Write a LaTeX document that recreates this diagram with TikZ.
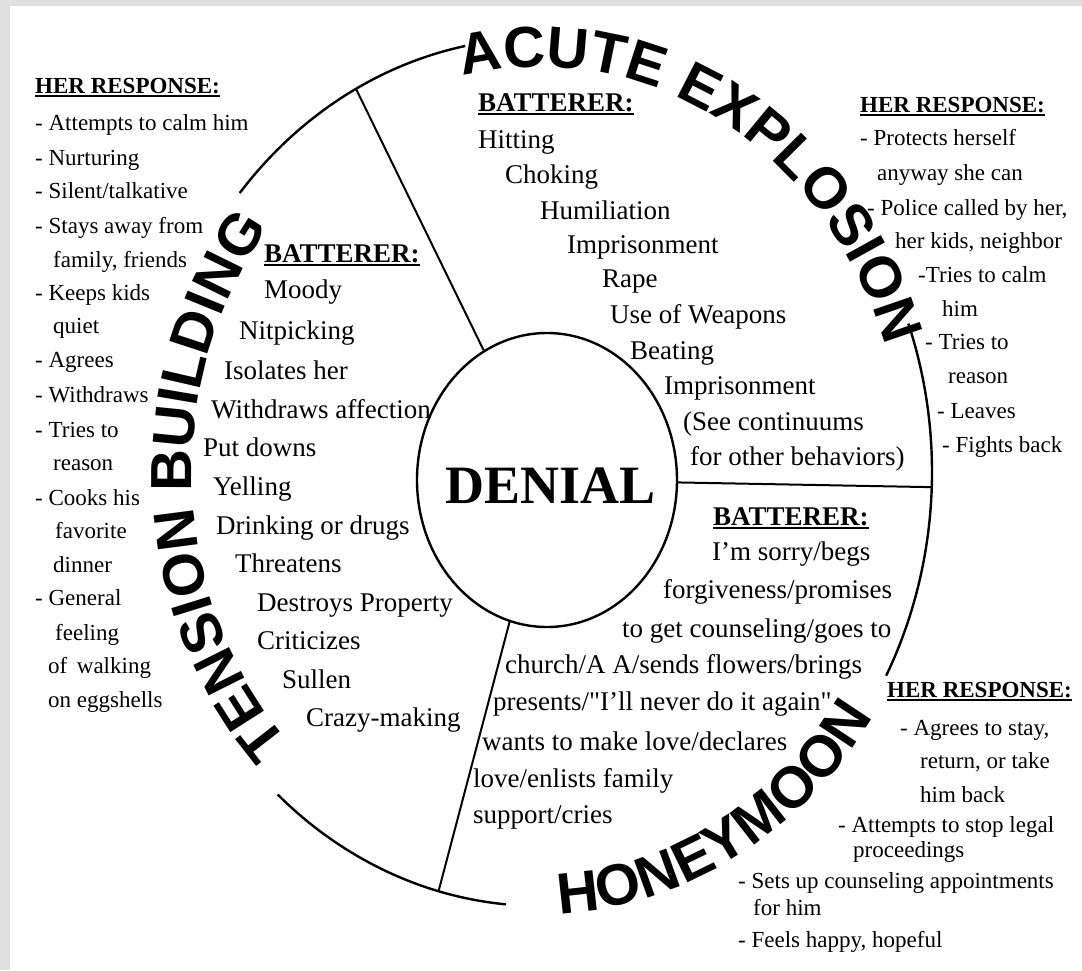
\documentclass[tikz,border=0pt]{standalone}
\usepackage{fontspec}
\setmainfont{Liberation Serif}
\setsansfont{Liberation Sans}
\usetikzlibrary{shapes.geometric,decorations.text}
\definecolor{scangray}{HTML}{E0E0E0}
\newcommand{\ulhead}[1]{\setbox0=\hbox{\bfseries #1}\rlap{\rule[-4pt]{\wd0}{2.4pt}}\box0}
\newcommand{\phasefont}{\fontsize{58}{58}\selectfont\sffamily\bfseries}
\newcommand{\hubfont}{\fontsize{54}{54}\selectfont\bfseries}
\tikzset{
  rim/.style={line width=2.4pt},
  spoke/.style={line width=2pt},
  hub/.style={ellipse, draw, line width=2.4pt, minimum width=260pt,
    minimum height=294pt, inner sep=0pt},
  hubtext/.style={anchor=base, inner sep=0pt, font=\hubfont},
  resp/.style={anchor=base west, inner sep=0pt, font=\fontsize{23}{28}\selectfont},
  bat/.style={anchor=base west, inner sep=0pt, font=\fontsize{27}{32}\selectfont},
  phase/.style={decorate, decoration={text along path, text align=center}},
}

\begin{document}
\begin{tikzpicture}[x=1pt, y=1pt]
  % scanned page
  \fill[scangray] (0,0) rectangle (1082,-970);
  \fill[white] (10,-6) rectangle (1082,-970);
  \useasboundingbox (0,0) rectangle (1082,-970);

  \coordinate (ring) at (540,-472);
  \node[hub] (denial) at (547,-480) {};
  \node[hubtext] (denialtxt) at (551,-503) {DENIAL};

  % rim between the phase names
  \draw[rim] ([shift={(140:392pt and 434pt)}]ring)
    arc[start angle=140, end angle=101, x radius=392pt, y radius=434pt];
  \draw[rim] ([shift={(20:392pt and 434pt)}]ring)
    arc[start angle=20, end angle=-28, x radius=392pt, y radius=434pt];
  \draw[rim] ([shift={(228:392pt and 434pt)}]ring)
    arc[start angle=228, end angle=265, x radius=392pt, y radius=434pt];

  % phase names
  \path[phase, decoration={text={|\phasefont|ACUTE EXPLOSION}}]
    ([shift={(105.3:363pt and 405pt)}]ring)
    arc[start angle=105.3, end angle=15.3, x radius=363pt, y radius=405pt];
  \path[phase, decoration={text={|\phasefont|TENSION BUILDING}}]
    ([shift={(228:348pt and 390pt)}]ring)
    arc[start angle=228, end angle=137, x radius=348pt, y radius=390pt];
  \path[phase, decoration={text={|\phasefont|HONEYMOON}}]
    ([shift={(257:400pt and 442pt)}]ring)
    arc[start angle=257, end angle=341, x radius=400pt, y radius=442pt];

  % spokes
  \coordinate (cutA) at ([shift={(118:392pt and 434pt)}]ring);
  \coordinate (cutB) at ([shift={(-2:392pt and 434pt)}]ring);
  \coordinate (cutC) at ([shift={(255:392pt and 434pt)}]ring);
  \draw[spoke] (denial) -- (cutA);
  \draw[spoke] (denial) -- (cutB);
  \draw[spoke] (denial) -- (cutC);

  % tension building: her response
  \node[resp] (tbhead) at (35,-93) {\ulhead{HER RESPONSE:}};
  \node[resp] (tbr1) at (35,-130) {- Attempts to calm him};
  \node[resp] (tbr2) at (35,-165) {- Nurturing};
  \node[resp] (tbr3) at (35,-198) {- Silent/talkative};
  \node[resp] (tbr4) at (35,-233) {- Stays away from};
  \node[resp] (tbr5) at (53,-267) {family, friends};
  \node[resp] (tbr6) at (35,-300) {- Keeps kids};
  \node[resp] (tbr7) at (53,-333) {quiet};
  \node[resp] (tbr8) at (35,-367) {- Agrees};
  \node[resp] (tbr9) at (35,-402) {- Withdraws};
  \node[resp] (tbr10) at (35,-437) {- Tries to};
  \node[resp] (tbr11) at (53,-470) {reason};
  \node[resp] (tbr12) at (35,-505) {- Cooks his};
  \node[resp] (tbr13) at (55,-538) {favorite};
  \node[resp] (tbr14) at (53,-572) {dinner};
  \node[resp] (tbr15) at (35,-605) {- General};
  \node[resp] (tbr16) at (55,-640) {feeling};
  \node[resp] (tbr17) at (48,-673) {of\, walking};
  \node[resp] (tbr18) at (48,-707) {on eggshells};

  % tension building: batterer
  \node[bat] (tbhead2) at (264,-262) {\ulhead{BATTERER:}};
  \node[bat] (tbb1) at (264,-298) {Moody};
  \node[bat] (tbb2) at (239,-339) {Nitpicking};
  \node[bat] (tbb3) at (224,-379) {Isolates her};
  \node[bat] (tbb4) at (211,-418) {Withdraws affection};
  \node[bat] (tbb5) at (203,-456) {Put downs};
  \node[bat] (tbb6) at (213,-495) {Yelling};
  \node[bat] (tbb7) at (216,-534) {Drinking or drugs};
  \node[bat] (tbb8) at (235,-572) {Threatens};
  \node[bat] (tbb9) at (257,-611) {Destroys Property};
  \node[bat] (tbb10) at (257,-649) {Criticizes};
  \node[bat] (tbb11) at (282,-688) {Sullen};
  \node[bat] (tbb12) at (306,-726) {Crazy-making};

  % acute explosion: batterer
  \node[bat] (aehead) at (478,-111) {\ulhead{BATTERER:}};
  \node[bat] (aeb1) at (478,-148) {Hitting};
  \node[bat] (aeb2) at (505,-183) {Choking};
  \node[bat] (aeb3) at (540,-219) {Humiliation};
  \node[bat] (aeb4) at (567,-253) {Imprisonment};
  \node[bat] (aeb5) at (602,-287) {Rape};
  \node[bat] (aeb6) at (610,-323) {Use of Weapons};
  \node[bat] (aeb7) at (630,-359) {Beating};
  \node[bat] (aeb8) at (664,-394) {Imprisonment};
  \node[bat] (aeb9) at (683,-430) {(See continuums};
  \node[bat] (aeb10) at (690,-465) {for other behaviors)};

  % acute explosion: her response
  \node[resp] (aehead2) at (860,-112) {\ulhead{HER RESPONSE:}};
  \node[resp] (aer1) at (860,-145) {- Protects herself};
  \node[resp] (aer2) at (877,-180) {anyway she can};
  \node[resp] (aer3) at (867,-215) {- Police called by her,};
  \node[resp] (aer4) at (895,-248) {her kids, neighbor};
  \node[resp] (aer5) at (918,-282) {-Tries to calm};
  \node[resp] (aer6) at (942,-316) {him};
  \node[resp] (aer7) at (925,-349) {- Tries to};
  \node[resp] (aer8) at (948,-383) {reason};
  \node[resp] (aer9) at (937,-418) {- Leaves};
  \node[resp] (aer10) at (942,-452) {- Fights back};

  % honeymoon: batterer
  \node[bat] (hmhead) at (713,-525) {\ulhead{BATTERER:}};
  \node[bat] (hmb1) at (712,-560) {I'm sorry/begs};
  \node[bat] (hmb2) at (663,-598) {forgiveness/promises};
  \node[bat] (hmb3) at (622,-637) {to get counseling/goes to};
  \node[bat] (hmb4) at (505,-673) {church/A A/sends flowers/brings};
  \node[bat] (hmb5) at (493,-710) {presents/\textquotedbl I'll never do it again\textquotedbl};
  \node[bat] (hmb6) at (482,-750) {wants to make love/declares};
  \node[bat] (hmb7) at (473,-787) {love/enlists family};
  \node[bat] (hmb8) at (473,-823) {support/cries};

  % honeymoon: her response
  \node[resp] (hmhead2) at (887,-697) {\ulhead{HER RESPONSE:}};
  \node[resp] (hmr1) at (900,-735) {- Agrees to stay,};
  \node[resp] (hmr2) at (920,-768) {return, or take};
  \node[resp] (hmr3) at (920,-802) {him back};
  \node[resp] (hmr4) at (838,-832) {- Attempts to stop legal};
  \node[resp] (hmr5) at (853,-857) {proceedings};
  \node[resp] (hmr6) at (738,-888) {- Sets up counseling appointments};
  \node[resp] (hmr7) at (753,-915) {for him};
  \node[resp] (hmr8) at (738,-947) {- Feels happy, hopeful};
\end{tikzpicture}
\end{document}
